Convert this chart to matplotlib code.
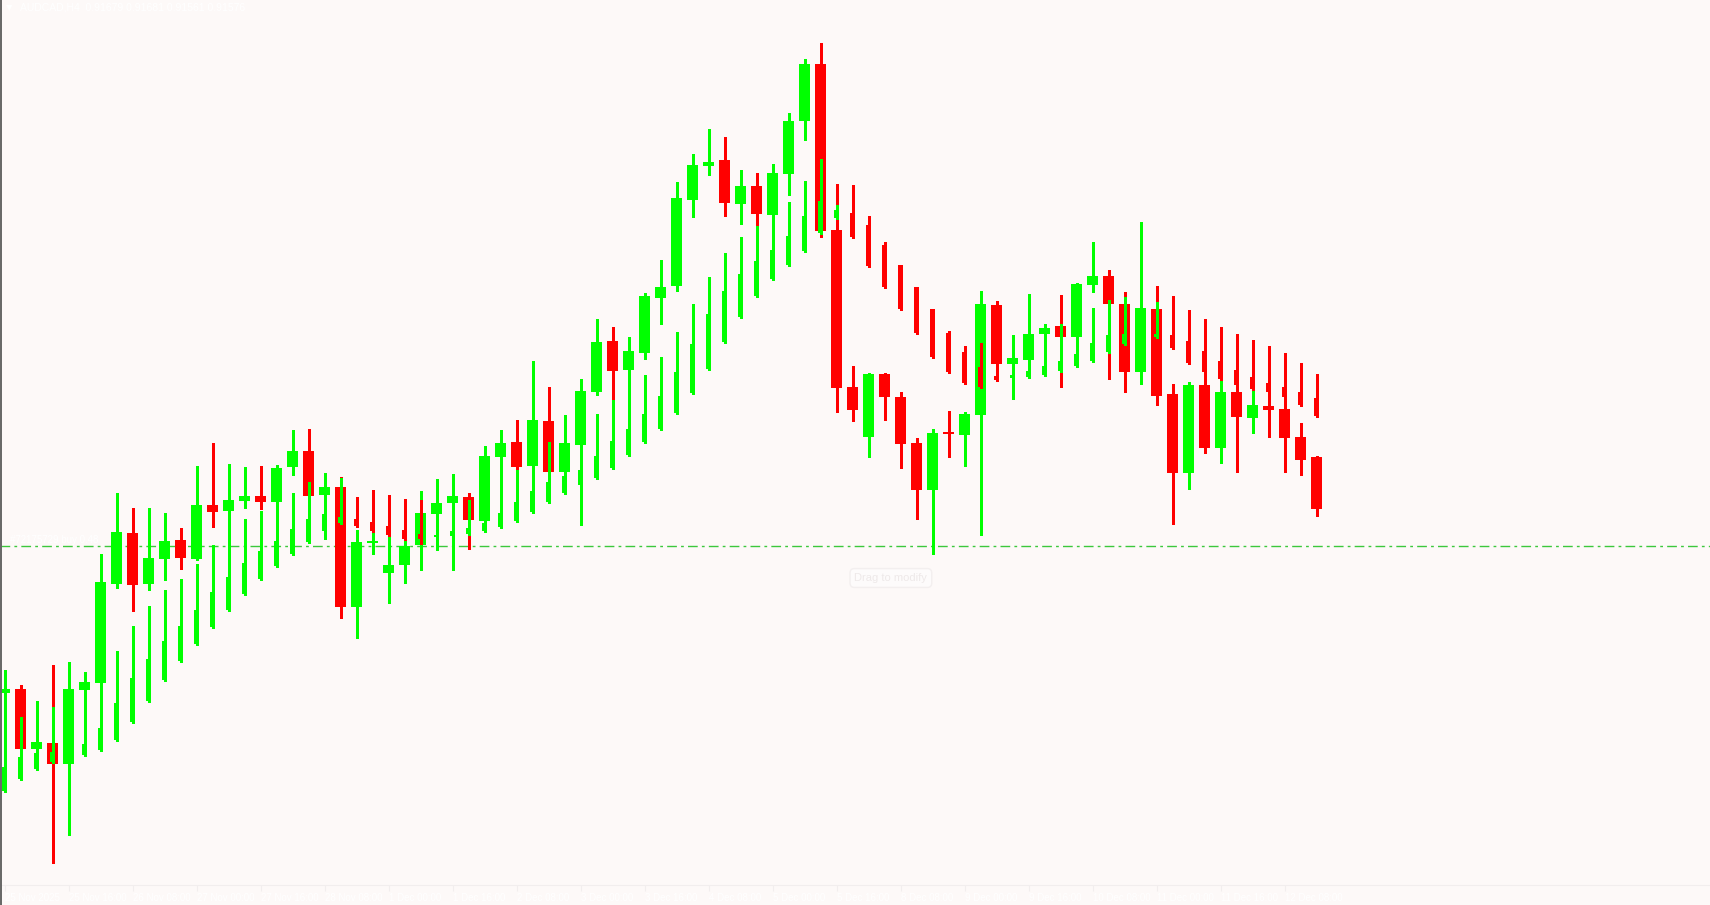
import numpy as np
import matplotlib.pyplot as plt
from matplotlib.lines import Line2D

## Data: AUDCAD H4 candles (wide series)
w_open = [0.91207, 0.91215, 0.91095, 0.91107, 0.91065, 0.91213, 0.91227, 0.91425, 0.91527, 0.91425,
          0.91475, 0.91513, 0.91475, 0.91583, 0.91571, 0.91591, 0.91601, 0.91589, 0.91659, 0.91691,
          0.91603, 0.91619, 0.91379, 0.91507, 0.91447, 0.91463, 0.91503, 0.91565, 0.91587, 0.91599,
          0.91551, 0.91679, 0.91709, 0.91661, 0.91751, 0.91649, 0.91703, 0.91809, 0.91911, 0.91853,
          0.91887, 0.91997, 0.92021, 0.92193, 0.92261, 0.92273, 0.92185, 0.92221, 0.92163, 0.92245,
          0.92351, 0.92465, 0.92133, 0.91819, 0.91719, 0.91845, 0.91799, 0.91707, 0.91613, 0.91729,
          0.91723, 0.91763, 0.91983, 0.91865, 0.91873, 0.91925, 0.91941, 0.91919, 0.92023, 0.92041,
          0.91985, 0.91849, 0.91975, 0.91805, 0.91647, 0.91823, 0.91697, 0.91809, 0.91757, 0.91781,
          0.91775, 0.91719, 0.91679]
w_high = [0.91223, 0.91223, 0.91191, 0.91263, 0.91269, 0.91249, 0.91485, 0.91607, 0.91577, 0.91577,
          0.91567, 0.91537, 0.91661, 0.91707, 0.91665, 0.91659, 0.91661, 0.91663, 0.91733, 0.91735,
          0.91647, 0.91639, 0.91533, 0.91531, 0.91521, 0.91515, 0.91611, 0.91635, 0.91645, 0.91607,
          0.91701, 0.91733, 0.91753, 0.91871, 0.91819, 0.91763, 0.91835, 0.91955, 0.91939, 0.91919,
          0.92007, 0.92073, 0.92229, 0.92285, 0.92335, 0.92319, 0.92253, 0.92247, 0.92265, 0.92367,
          0.92475, 0.92507, 0.92225, 0.91861, 0.91847, 0.91847, 0.91809, 0.91717, 0.91735, 0.91771,
          0.91769, 0.92011, 0.91991, 0.91923, 0.92005, 0.91945, 0.92003, 0.92027, 0.92109, 0.92053,
          0.92009, 0.92149, 0.92021, 0.91825, 0.91829, 0.91849, 0.91835, 0.91823, 0.91815, 0.91809,
          0.91799, 0.91747, 0.91681]
w_low = [0.91203, 0.91093, 0.91093, 0.90867, 0.90923, 0.91193, 0.91225, 0.91417, 0.91371, 0.91413,
         0.91433, 0.91455, 0.91473, 0.91539, 0.91533, 0.91577, 0.91575, 0.91587, 0.91643, 0.91593,
         0.91593, 0.91357, 0.91317, 0.91485, 0.91387, 0.91427, 0.91453, 0.91541, 0.91543, 0.91495,
         0.91543, 0.91637, 0.91653, 0.91633, 0.91643, 0.91641, 0.91663, 0.91803, 0.91795, 0.91817,
         0.91875, 0.91945, 0.92011, 0.92159, 0.92243, 0.92161, 0.92145, 0.92141, 0.92159, 0.92203,
         0.92313, 0.92119, 0.91769, 0.91751, 0.91679, 0.91753, 0.91657, 0.91555, 0.91485, 0.91679,
         0.91661, 0.91523, 0.91847, 0.91795, 0.91837, 0.91841, 0.91819, 0.91859, 0.92009, 0.91835,
         0.91809, 0.91825, 0.91783, 0.91545, 0.91615, 0.91687, 0.91667, 0.91649, 0.91727, 0.91719,
         0.91649, 0.91643, 0.91561]
w_close = [0.91215, 0.91095, 0.91109, 0.91065, 0.91215, 0.91229, 0.91429, 0.91529, 0.91423, 0.91477,
           0.91511, 0.91477, 0.91583, 0.91569, 0.91593, 0.91601, 0.91589, 0.91657, 0.91691, 0.91601,
           0.91619, 0.91379, 0.91509, 0.91511, 0.91463, 0.91501, 0.91567, 0.91587, 0.91601, 0.91553,
           0.91681, 0.91707, 0.91659, 0.91753, 0.91649, 0.91707, 0.91811, 0.91909, 0.91851, 0.91891,
           0.92001, 0.92019, 0.92197, 0.92263, 0.92269, 0.92187, 0.92221, 0.92165, 0.92247, 0.92351,
           0.92465, 0.92131, 0.91817, 0.91773, 0.91845, 0.91799, 0.91705, 0.91613, 0.91727, 0.91725,
           0.91765, 0.91985, 0.91865, 0.91877, 0.91925, 0.91937, 0.91919, 0.92025, 0.92041, 0.91985,
           0.91849, 0.91977, 0.91801, 0.91647, 0.91823, 0.91697, 0.91809, 0.91759, 0.91783, 0.91773,
           0.91717, 0.91673, 0.91576]

## Overlay series (narrow candles)
n_open = [0.91011, 0.91035, 0.91055, 0.91069, 0.91073, 0.91083, 0.91093, 0.91113, 0.91149, 0.91191,
          0.91233, 0.91271, 0.91305, 0.91339, 0.91373, 0.91405, 0.91435, 0.91461, 0.91485, 0.91509,
          0.91531, 0.91547, 0.91555, 0.91549, 0.91541, 0.91533, 0.91525, 0.91519, 0.91521, 0.91525,
          0.91531, 0.91539, 0.91551, 0.91569, 0.91589, 0.91607, 0.91623, 0.91637, 0.91657, 0.91683,
          0.91709, 0.91735, 0.91767, 0.91807, 0.91855, 0.91909, 0.91959, 0.92001, 0.92035, 0.92063,
          0.92091, 0.92127, 0.92157, 0.92167, 0.92143, 0.92103, 0.92063, 0.92019, 0.91975, 0.91927,
          0.91889, 0.91859, 0.91841, 0.91837, 0.91839, 0.91843, 0.91851, 0.91861, 0.91871, 0.91889,
          0.91905, 0.91903, 0.91919, 0.91923, 0.91911, 0.91891, 0.91871, 0.91853, 0.91839, 0.91827,
          0.91819, 0.91809, 0.91797]
n_high = [0.91253, 0.91159, 0.91165, 0.91179, 0.91183, 0.91203, 0.91225, 0.91291, 0.91341, 0.91381,
          0.91413, 0.91435, 0.91465, 0.91503, 0.91533, 0.91555, 0.91571, 0.91589, 0.91607, 0.91629,
          0.91637, 0.91637, 0.91599, 0.91613, 0.91603, 0.91595, 0.91593, 0.91541, 0.91583, 0.91593,
          0.91563, 0.91635, 0.91653, 0.91653, 0.91709, 0.91721, 0.91703, 0.91765, 0.91793, 0.91817,
          0.91843, 0.91879, 0.91929, 0.91985, 0.92039, 0.92087, 0.92119, 0.92141, 0.92159, 0.92189,
          0.92231, 0.92275, 0.92183, 0.92223, 0.92161, 0.92109, 0.92063, 0.92019, 0.91975, 0.91931,
          0.91901, 0.91907, 0.91889, 0.91865, 0.91873, 0.91925, 0.91945, 0.91919, 0.91977, 0.91993,
          0.91999, 0.91993, 0.91989, 0.92001, 0.91973, 0.91955, 0.91939, 0.91925, 0.91913, 0.91901,
          0.91887, 0.91867, 0.91845]
n_low = [0.91009, 0.91033, 0.91053, 0.91067, 0.91071, 0.91081, 0.91091, 0.91111, 0.91147, 0.91189,
         0.91231, 0.91269, 0.91303, 0.91337, 0.91371, 0.91403, 0.91433, 0.91459, 0.91483, 0.91507,
         0.91515, 0.91545, 0.91539, 0.91529, 0.91521, 0.91513, 0.91505, 0.91493, 0.91453, 0.91523,
         0.91529, 0.91537, 0.91549, 0.91567, 0.91587, 0.91605, 0.91543, 0.91635, 0.91655, 0.91681,
         0.91707, 0.91733, 0.91765, 0.91805, 0.91853, 0.91907, 0.91957, 0.91999, 0.92033, 0.92061,
         0.92089, 0.92125, 0.92155, 0.92117, 0.92059, 0.92017, 0.91973, 0.91925, 0.91877, 0.91847,
         0.91825, 0.91817, 0.91831, 0.91835, 0.91837, 0.91841, 0.91849, 0.91859, 0.91869, 0.91887,
         0.91903, 0.91901, 0.91917, 0.91895, 0.91865, 0.91847, 0.91833, 0.91821, 0.91813, 0.91807,
         0.91797, 0.91781, 0.91759]
n_close = [0.91059, 0.91079, 0.91087, 0.91089, 0.91097, 0.91105, 0.91137, 0.91187, 0.91237, 0.91275,
           0.91311, 0.91341, 0.91373, 0.91409, 0.91439, 0.91467, 0.91491, 0.91511, 0.91535, 0.91555,
           0.91565, 0.91559, 0.91541, 0.91531, 0.91523, 0.91515, 0.91515, 0.91523, 0.91531, 0.91537,
           0.91547, 0.91567, 0.91589, 0.91611, 0.91629, 0.91641, 0.91653, 0.91681, 0.91711, 0.91735,
           0.91765, 0.91801, 0.91849, 0.91905, 0.91965, 0.92011, 0.92045, 0.92071, 0.92093, 0.92121,
           0.92161, 0.92191, 0.92173, 0.92119, 0.92061, 0.92019, 0.91975, 0.91927, 0.91879, 0.91849,
           0.91827, 0.91819, 0.91833, 0.91843, 0.91851, 0.91861, 0.91871, 0.91885, 0.91907, 0.91923,
           0.91925, 0.91927, 0.91925, 0.91897, 0.91867, 0.91849, 0.91835, 0.91823, 0.91815, 0.91809,
           0.91799, 0.91783, 0.91761]

tick_idx = list(range(0, 84, 4))
tick_labels = ['25 Nov 2025', '25 Nov 16:00', '26 Nov 08:00', '27 Nov 00:00', '27 Nov 16:00',
               '28 Nov 08:00', '1 Dec 00:00', '1 Dec 16:00', '2 Dec 08:00', '3 Dec 00:00',
               '3 Dec 16:00', '4 Dec 08:00', '5 Dec 00:00', '5 Dec 16:00', '8 Dec 08:00',
               '9 Dec 00:00', '9 Dec 16:00', '10 Dec 08:00', '11 Dec 00:00', '11 Dec 16:00',
               '12 Dec 08:00']
order_price = 0.91501
header = 'AUDCAD,H4  0.91679 0.91681 0.91561 0.91576'

BG = '#fdf9f8'
UP = '#00ff00'
DOWN = '#ff0000'
FONT = ['Liberation Sans', 'DejaVu Sans']


def draw_candles(ax, o, h, l, c, width, lw, z):
    o, h, l, c = map(np.array, (o, h, l, c))
    x = np.arange(len(o))
    cols = np.where(c >= o, UP, DOWN)
    ax.vlines(x, l, h, colors=cols, linewidth=lw, antialiased=False, zorder=z)
    bottom = np.minimum(o, c)
    height = np.maximum(np.abs(c - o), 0.00002)
    ax.bar(x, height, width, bottom=bottom, color=cols, linewidth=0, antialiased=False,
           zorder=z + 0.5)


fig = plt.figure(figsize=(17.1, 9.05), dpi=100, facecolor=BG)
ax = fig.add_axes([0, 20 / 905, 1, 885 / 905])
ax.set_facecolor(BG)

# order line and its label sit under the candles
ax.axhline(order_price, color='#3cc83c', linewidth=1.0, linestyle=(0, (7, 3, 2, 3)), zorder=1)
ax.text(0.35, order_price + 0.00003, '#72175729 buy 0.48', color='white', fontsize=7,
        family=FONT, va='bottom', ha='left', zorder=1)

draw_candles(ax, w_open, w_high, w_low, w_close, 11 / 16, 1.0, 2)
draw_candles(ax, n_open, n_high, n_low, n_close, 5 / 16, 1.0, 3)

ax.text(55.4, order_price - 0.00064, 'Drag to modify', color='#eee9e9', fontsize=8,
        family=FONT, ha='center', va='center', zorder=5,
        bbox=dict(boxstyle='round,pad=0.4', facecolor='#fdfbfb', edgecolor='#f3efef'))

ax.set_xlim(-4.5 / 16, (1710 - 4.5) / 16)
ax.set_ylim(0.92593 - 0.0177, 0.92593)

ax.set_xticks(tick_idx)
ax.set_xticklabels(tick_labels, color='white', fontsize=7, family=FONT, ha='left')
ax.tick_params(axis='x', length=4, color='#f2eeee', pad=2)
ax.set_yticks([])
for s in ['top', 'right', 'left']:
    ax.spines[s].set_visible(False)
ax.spines['bottom'].set_color('#f2eeee')

# dark left border over the full height
fig.add_artist(Line2D([0.6 / 1710, 0.6 / 1710], [0, 1], color='#666666', linewidth=1.4,
                      transform=fig.transFigure))

fig.text(6 / 1710, 1 - 8 / 905, '\u25bc', color='white', fontsize=6, va='center')
fig.text(20 / 1710, 1 - 8 / 905, header, color='white', fontsize=7.5, family=FONT, va='center')

fig.savefig('out.png', dpi=100, facecolor=BG)
